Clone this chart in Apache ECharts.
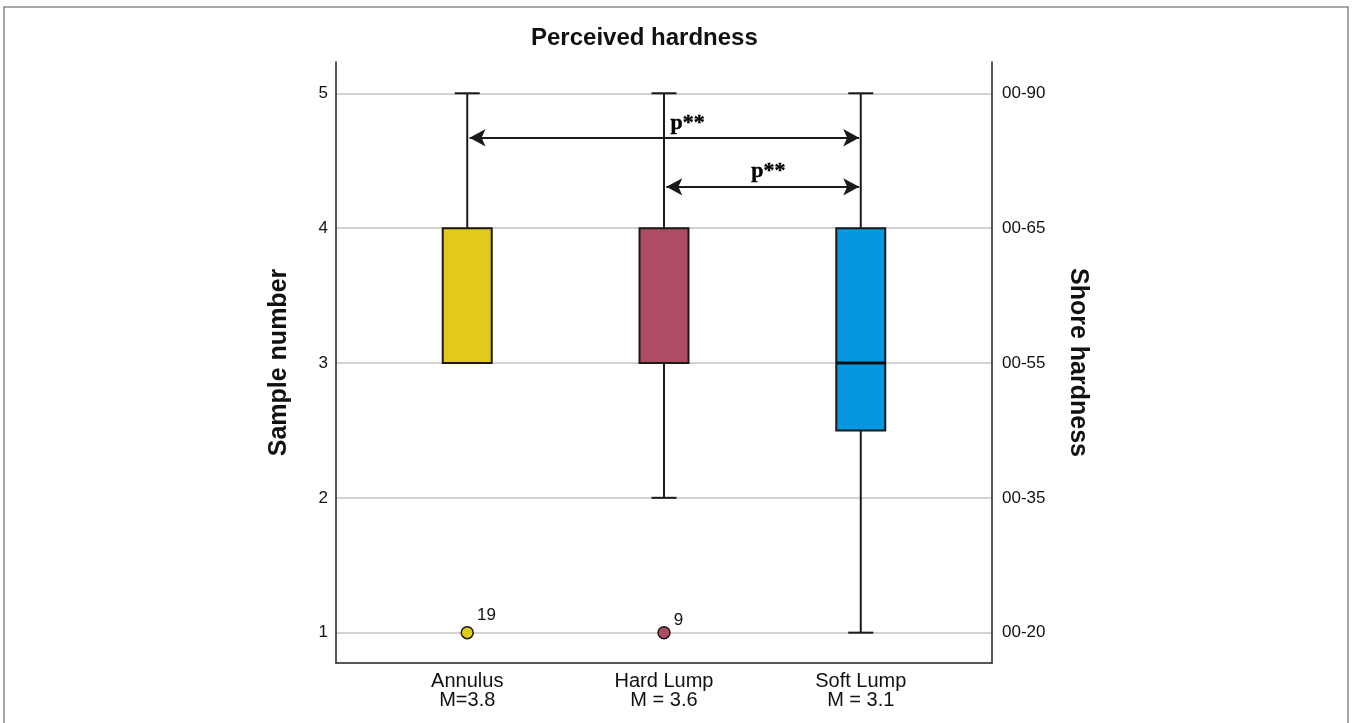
<!DOCTYPE html>
<html>
<head>
<meta charset="utf-8">
<script src="https://cdn.jsdelivr.net/npm/echarts@6/dist/echarts.min.js"></script>
<style>
  html, body { margin: 0; padding: 0; background: #fff; }
  #chart { width: 1352px; height: 723px; }
</style>
</head>
<body>
<div id="chart"></div>
<script>
// groups on the x axis
const groupNames = ['Annulus', 'Hard Lump', 'Soft Lump']
const meanLabels = ['M=3.8', 'M = 3.6', 'M = 3.1']
const boxColors = ['#E2CA1A', '#B04B64', '#0598E1']

// box plot summary per group
const whiskerLow = [3, 2, 1]
const quartile1 = [3, 3, 2.5]
const medians = [4, 4, 3]
const quartile3 = [4, 4, 4]
const whiskerHigh = [5, 5, 5]

// outliers (group index 1-based, value, case number)
const outlierGroup = [1, 2]
const outlierValue = [1, 1]
const outlierCase = ['19', '9']

// axis ticks
const yTicks = [1, 2, 3, 4, 5]
const shoreLabels = ['00-20', '00-35', '00-55', '00-65', '00-90']

// significance brackets
const compFrom = [1, 2]
const compTo = [3, 3]
const compLevel = [4.67, 4.306]
const compText = ['p**', 'p**']
const compTextX = [2.12, 2.53]
const compTextY = [4.775, 4.42]

const FONT = 'Liberation Sans, Arial, sans-serif'
const chart = echarts.init(document.getElementById('chart'))

const boxData = groupNames.map((g, i) => [
  i + 1, whiskerLow[i], quartile1[i], medians[i], quartile3[i], whiskerHigh[i]
])

function renderBox(params, api) {
  const x = api.value(0)
  const lo = api.value(1), q1 = api.value(2), med = api.value(3), q3 = api.value(4), hi = api.value(5)
  const cx = api.coord([x, q1])[0]
  const y = v => api.coord([x, v])[1]
  const halfBox = 24.5, halfCap = 12.5
  const stroke = { stroke: '#1a1a1a', lineWidth: 2 }
  const kids = []
  if (hi > q3) {
    kids.push({ type: 'line', shape: { x1: cx, y1: y(hi), x2: cx, y2: y(q3) }, style: stroke })
    kids.push({ type: 'line', shape: { x1: cx - halfCap, y1: y(hi), x2: cx + halfCap, y2: y(hi) }, style: stroke })
  }
  if (lo < q1) {
    kids.push({ type: 'line', shape: { x1: cx, y1: y(q1), x2: cx, y2: y(lo) }, style: stroke })
    kids.push({ type: 'line', shape: { x1: cx - halfCap, y1: y(lo), x2: cx + halfCap, y2: y(lo) }, style: stroke })
  }
  kids.push({
    type: 'rect',
    shape: { x: cx - halfBox, y: y(q3), width: halfBox * 2, height: y(q1) - y(q3) },
    style: { fill: boxColors[params.dataIndex], stroke: '#1a1a1a', lineWidth: 2 }
  })
  if (med > q1 && med < q3) {
    kids.push({ type: 'line', shape: { x1: cx - halfBox, y1: y(med), x2: cx + halfBox, y2: y(med) },
      style: { stroke: '#111', lineWidth: 3 } })
  }
  return { type: 'group', children: kids }
}

const option = {
  animation: false,
  backgroundColor: '#fff',
  title: {
    text: 'Perceived hardness',
    left: 526,
    top: 21,
    textStyle: { fontFamily: FONT, fontSize: 24, fontWeight: 'bold', color: '#111' }
  },
  graphic: [{
    type: 'rect',
    shape: { x: 4, y: 7, width: 1344, height: 740 },
    style: { fill: 'none', stroke: '#8a8a8a', lineWidth: 1.5 },
    silent: true
  }],
  grid: { left: 336, right: 360, top: 62, bottom: 60 },
  xAxis: {
    type: 'value',
    min: 0.333,
    max: 3.667,
    axisLine: { show: true, onZero: false, lineStyle: { color: '#222', width: 1.5 } },
    axisTick: { show: false, customValues: [1, 2, 3] },
    splitLine: { show: false },
    axisLabel: {
      customValues: [1, 2, 3],
      margin: 9,
      fontFamily: FONT,
      fontSize: 20,
      lineHeight: 19,
      color: '#111',
      formatter: v => {
        const i = Math.round(v) - 1
        return groupNames[i] + '\n' + meanLabels[i]
      }
    }
  },
  yAxis: [{
    type: 'value',
    position: 'left',
    min: 0.775,
    max: 5.232,
    name: 'Sample number',
    nameLocation: 'middle',
    nameGap: 44,
    nameTextStyle: { fontFamily: FONT, fontSize: 25, fontWeight: 'bold', color: '#111' },
    axisLine: { show: true, onZero: false, lineStyle: { color: '#222', width: 1.5 } },
    axisTick: { show: false, customValues: yTicks },
    splitLine: { show: true, lineStyle: { color: '#c4c4c4', width: 1.5 } },
    axisLabel: {
      customValues: yTicks,
      margin: 8,
      fontFamily: FONT, fontSize: 17, color: '#111',
      formatter: v => String(Math.round(v))
    }
  }, {
    type: 'value',
    position: 'right',
    min: 0.775,
    max: 5.232,
    name: 'Shore hardness',
    nameLocation: 'middle',
    nameRotate: -90,
    nameGap: 73,
    nameTextStyle: { fontFamily: FONT, fontSize: 25, fontWeight: 'bold', color: '#111' },
    axisLine: { show: true, onZero: false, lineStyle: { color: '#222', width: 1.5 } },
    axisTick: { show: false, customValues: yTicks },
    splitLine: { show: false },
    axisLabel: {
      customValues: yTicks,
      margin: 10,
      fontFamily: FONT, fontSize: 17, color: '#111',
      formatter: v => shoreLabels[yTicks.indexOf(Math.round(v))]
    }
  }],
  series: [
    {
      type: 'custom',
      name: 'boxes',
      renderItem: renderBox,
      encode: { x: 0, y: [1, 2, 3, 4, 5] },
      data: boxData,
      z: 3
    },
    {
      type: 'scatter',
      name: 'outliers',
      symbolSize: 12,
      data: outlierGroup.map((g, i) => ({
        value: [g, outlierValue[i]],
        itemStyle: { color: boxColors[g - 1] },
        label: { offset: [0, i === 0 ? -17 : -12] }
      })),
      itemStyle: { borderColor: '#1a1a1a', borderWidth: 1.5, opacity: 1 },
      label: {
        show: true,
        position: 'right',
        distance: 3,
        fontFamily: FONT, fontSize: 17, color: '#111',
        formatter: p => outlierCase[p.dataIndex]
      },
      z: 4,
      markLine: {
        silent: true,
        symbol: ['arrow', 'arrow'],
        symbolSize: [13, 16],
        label: { show: false },
        lineStyle: { color: '#1a1a1a', width: 2.2, type: 'solid' },
        data: compFrom.map((f, i) => [
          { coord: [f + 0.012, compLevel[i]] },
          { coord: [compTo[i] - 0.008, compLevel[i]] }
        ])
      }
    },
    {
      type: 'scatter',
      name: 'annotations',
      symbolSize: 1,
      itemStyle: { opacity: 0 },
      silent: true,
      data: compText.map((t, i) => [compTextX[i], compTextY[i]]),
      label: {
        show: true,
        position: 'inside',
        fontFamily: 'Liberation Serif, Times New Roman, serif',
        fontWeight: 'bold',
        fontSize: 22,
        color: '#000',
        opacity: 1,
        textBorderColor: '#000',
        textBorderWidth: 0.4,
        formatter: p => compText[p.dataIndex]
      },
      z: 5
    }
  ]
}

chart.setOption(option)
window.addEventListener('resize', () => chart.resize())
</script>
</body>
</html>
